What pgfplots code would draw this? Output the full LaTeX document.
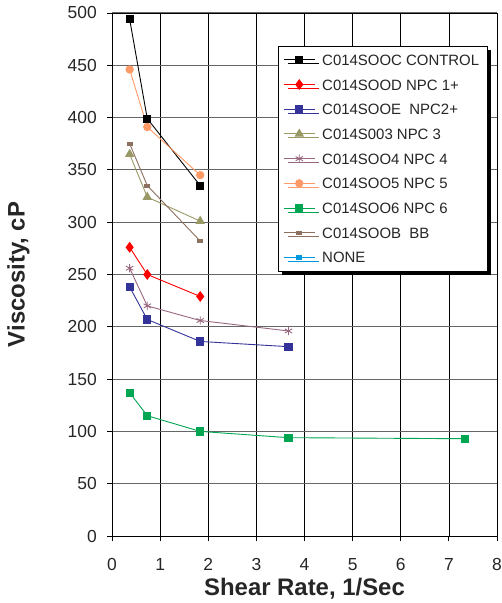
\documentclass[border=0pt]{standalone}
\usepackage{pgfplots}
\pgfplotsset{compat=1.18}
\usepackage{fontspec}
\setmainfont{Liberation Sans}
\usetikzlibrary{shadows}
\definecolor{cctrl}{HTML}{000000}
\definecolor{cnpc1}{HTML}{FF0000}
\definecolor{cnpc2}{HTML}{333399}
\definecolor{cnpc3}{HTML}{999966}
\definecolor{cnpc4}{HTML}{996680}
\definecolor{cnpc5}{HTML}{FF9966}
\definecolor{cnpc6}{HTML}{00A651}
\definecolor{cbb}{HTML}{8C7060}
\definecolor{cnone}{HTML}{0099DD}
\begin{document}
\begin{tikzpicture}
\begin{axis}[
  scale only axis,
  width=385bp, height=523bp,
  xmin=0, xmax=8, ymin=0, ymax=500,
  xtick={0,1,...,8}, ytick={0,50,...,500},
  grid=major,
  x grid style={black, line width=0.7pt},
  y grid style={black!60, line width=1pt},
  axis line style={black, line width=0.8pt},
  tick style={black, line width=0.8pt},
  tick align=outside,
  major tick length=5bp,
  xtick pos=bottom, ytick pos=left,
  /pgf/number format/assume math mode=true,
  ticklabel style={font=\fontsize{17.5}{19}\selectfont, text=black!85},
  yticklabel style={anchor=east, inner sep=0pt, xshift=-10bp},
  xticklabel style={anchor=north, inner sep=0pt, yshift=-17bp},
  xlabel={\textbf{Shear Rate, 1/Sec}},
  ylabel={\textbf{Viscosity, cP}},
  every axis x label/.style={at={(axis description cs:0.5,0)}, anchor=north, inner sep=0pt, yshift=-42bp, font=\fontsize{24}{26}\selectfont, text=black!85},
  every axis y label/.style={at={(axis description cs:-0.2727,0.5)}, rotate=90, anchor=north, inner sep=0pt, font=\fontsize{24}{26}\selectfont, text=black!85},
  legend style={at={(0.431,0.937)}, anchor=north west, draw=black, line width=0.8pt, fill=white,
    font=\fontsize{15}{17}\selectfont, text=black!85,
    nodes={text height=11bp, text depth=0bp, inner sep=3bp},
    row sep=7.7bp, column sep=4bp, inner xsep=5bp, inner ysep=5bp,
    drop shadow={shadow xshift=4bp, shadow yshift=-4bp, fill=black, opacity=1}},
  legend cell align=left,
  legend image code/.code={\draw[mark repeat=2,mark phase=2] plot coordinates {(0bp,0bp)(15.5bp,0bp)(31bp,0bp)};},
  every axis plot/.append style={line width=0.9pt},
  clip=false,
]
\addplot[cctrl, mark=square*, mark size=3.6bp] coordinates {(0.367,494) (0.733,399) (1.833,335)};
\addlegendentry{C014SOOC CONTROL}
\addplot[cnpc1, mark=diamond*, mark size=4.7bp] coordinates {(0.367,276) (0.733,250) (1.833,229)};
\addlegendentry{C014SOOD NPC 1+}
\addplot[cnpc2, mark=square*, mark size=3.6bp] coordinates {(0.367,238) (0.733,207) (1.833,186) (3.667,181)};
\addlegendentry{C014SOOE\ \ NPC2+}
\addplot[cnpc3, mark=triangle*, mark size=4.6bp] coordinates {(0.367,365) (0.733,324) (1.833,301)};
\addlegendentry{C014S003 NPC 3}
\addplot[cnpc4, mark=asterisk, mark size=4.2bp] coordinates {(0.367,256) (0.733,220) (1.833,206) (3.667,196)};
\addlegendentry{C014SOO4 NPC 4}
\addplot[cnpc5, mark=*, mark size=3.7bp] coordinates {(0.367,446) (0.733,391) (1.833,345)};
\addlegendentry{C014SOO5 NPC 5}
\addplot[cnpc6, mark=square*, mark size=3.6bp] coordinates {(0.367,137) (0.733,115) (1.833,100) (3.667,94) (7.333,93)};
\addlegendentry{C014SOO6 NPC 6}
\addplot[cbb, mark=square*, mark size=2.6bp, mark options={yscale=0.6}] coordinates {(0.367,375) (0.733,335) (1.833,282)};
\addlegendentry{C014SOOB\ \ BB}
\addlegendimage{cnone, line width=0.9pt, mark=square*, mark size=2.6bp, mark options={yscale=0.6}}
\addlegendentry{NONE}
\coordinate (bbsw) at (rel axis cs:0,0);
\coordinate (bbne) at (rel axis cs:1,1);
\end{axis}
\pgfresetboundingbox
\path[use as bounding box] ([shift={(-112bp,-67bp)}]bbsw) rectangle ([shift={(5bp,13bp)}]bbne);
\end{tikzpicture}
\end{document}
